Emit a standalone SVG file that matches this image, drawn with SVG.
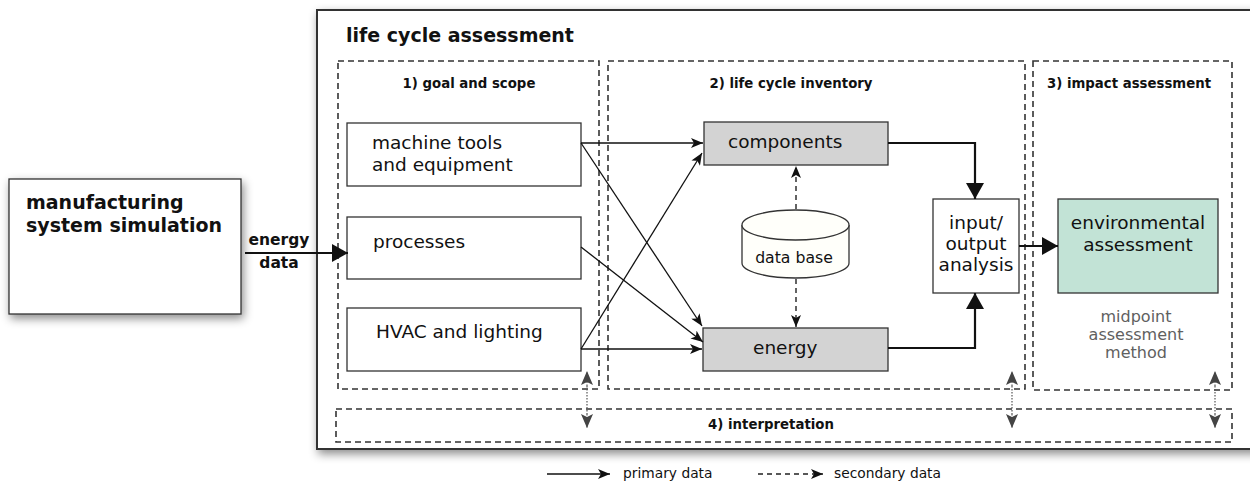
<svg xmlns="http://www.w3.org/2000/svg" width="1250" height="484" viewBox="0 0 1250 484">
<style>
text{font-family:"DejaVu Sans","Liberation Sans",sans-serif;fill:#111}
.b{font-weight:bold}
.box{fill:#fff;stroke:#333;stroke-width:1.3}
.grey{fill:#d3d3d3;stroke:#333;stroke-width:1.3}
.panel{fill:none;stroke:#333;stroke-width:1.6;stroke-dasharray:6 4}
.thin{fill:none;stroke:#111;stroke-width:1.3}
.thick{fill:none;stroke:#111;stroke-width:2.2}
.dash{fill:none;stroke:#222;stroke-width:1.4;stroke-dasharray:5 4}
.dot{fill:none;stroke:#555;stroke-width:1.2;stroke-dasharray:1.5 1.5}
.t18{font-size:18.5px}
.h{font-size:13.3px;font-weight:bold}
.lg{font-size:13.8px}
</style>
<defs>
<filter id="sh" x="-10%" y="-10%" width="130%" height="130%">
<feDropShadow dx="2" dy="4" stdDeviation="5" flood-color="#000" flood-opacity="0.45"/>
</filter>
<marker id="ah" viewBox="0 0 12 10" refX="12" refY="5" markerWidth="13" markerHeight="10" markerUnits="userSpaceOnUse" orient="auto"><path d="M0,0 L12,5 L0,10 L3,5 Z" fill="#111"/></marker>
<marker id="big" viewBox="0 0 16 18" refX="16" refY="9" markerWidth="16" markerHeight="18" markerUnits="userSpaceOnUse" orient="auto"><path d="M0,0 L16,9 L0,18 Z" fill="#111"/></marker>
<marker id="dh" viewBox="0 0 12 10" refX="12" refY="5" markerWidth="12" markerHeight="10" markerUnits="userSpaceOnUse" orient="auto"><path d="M0,0 L12,5 L0,10 L3,5 Z" fill="#111"/></marker>
<marker id="gh" viewBox="0 0 14 12" refX="14" refY="6" markerWidth="14" markerHeight="12" markerUnits="userSpaceOnUse" orient="auto"><path d="M0,0 L14,6 L0,12 L3,6 Z" fill="#444"/></marker>
</defs>

<g id="mss">
<rect x="9" y="179" width="232" height="135" class="box" filter="url(#sh)"/>
<text x="26" y="209" class="b" font-size="19">manufacturing</text>
<text x="26" y="232" class="b" font-size="19">system simulation</text>
</g>

<g id="lca">
<rect x="317" y="10" width="950" height="439" fill="#fff" stroke="#333" stroke-width="2" filter="url(#sh)"/>
<text x="346" y="42" class="b" font-size="19">life cycle assessment</text>
</g>

<g id="panel1">
<rect x="338" y="61" width="261" height="328" class="panel"/>
<text x="469" y="88" class="h" text-anchor="middle">1) goal and scope</text>
</g>
<g id="panel2">
<rect x="608" y="61" width="417" height="328" class="panel"/>
<text x="791" y="88" class="h" text-anchor="middle">2) life cycle inventory</text>
</g>
<g id="panel3">
<rect x="1033" y="61" width="199" height="329" class="panel"/>
<text x="1129" y="88" class="h" text-anchor="middle">3) impact assessment</text>
</g>
<g id="panel4">
<rect x="336" y="409" width="896" height="33" class="panel"/>
<text x="771" y="429" class="h" text-anchor="middle">4) interpretation</text>
</g>

<g id="machine">
<rect x="347" y="123" width="234" height="63" class="box"/>
<text x="372" y="149" class="t18">machine tools</text>
<text x="372" y="171" class="t18">and equipment</text>
</g>
<g id="processes">
<rect x="347" y="217" width="234" height="62" class="box"/>
<text x="373" y="248" class="t18">processes</text>
</g>
<g id="hvac">
<rect x="347" y="308" width="234" height="63" class="box"/>
<text x="376" y="338" class="t18">HVAC and lighting</text>
</g>

<g id="components">
<rect x="704" y="122" width="184" height="43" class="grey"/>
<text x="728" y="148" class="t18">components</text>
</g>
<g id="energy">
<rect x="703" y="328" width="185" height="43" class="grey"/>
<text x="753" y="354" class="t18">energy</text>
</g>
<g id="database">
<path d="M742,225 L742,263 A53.5,15 0 0 0 849,263 L849,225" fill="#fffffa" stroke="#333" stroke-width="1.3"/>
<ellipse cx="795.5" cy="225" rx="53.5" ry="15" fill="#fffffa" stroke="#333" stroke-width="1.3"/>
<text x="794" y="263" text-anchor="middle" font-size="15.7">data base</text>
</g>
<g id="io">
<rect x="933" y="199" width="86" height="94" class="box"/>
<text x="976" y="229" class="t18" text-anchor="middle">input/</text>
<text x="976" y="250" class="t18" text-anchor="middle">output</text>
<text x="976" y="271" class="t18" text-anchor="middle">analysis</text>
</g>
<g id="env">
<rect x="1058" y="199" width="160" height="94" fill="#c2e3d6" stroke="#333" stroke-width="1.3"/>
<text x="1138" y="229" class="t18" text-anchor="middle">environmental</text>
<text x="1138" y="251" class="t18" text-anchor="middle">assessment</text>
<text x="1136" y="322" text-anchor="middle" font-size="16" style="fill:#606060">midpoint</text>
<text x="1136" y="340" text-anchor="middle" font-size="16" style="fill:#606060">assessment</text>
<text x="1136" y="358" text-anchor="middle" font-size="16" style="fill:#606060">method</text>
</g>

<g id="connectors">
<line x1="245" y1="253" x2="348" y2="253" class="thick" marker-end="url(#big)"/>
<text x="279" y="245" text-anchor="middle" class="b" font-size="15.5">energy</text>
<text x="279" y="268" text-anchor="middle" class="b" font-size="15.5">data</text>

<line x1="581" y1="143" x2="703" y2="143" class="thin" marker-end="url(#ah)"/>
<line x1="581" y1="143" x2="702" y2="326" class="thin" marker-end="url(#ah)"/>
<line x1="581" y1="247" x2="703" y2="342" class="thin" marker-end="url(#ah)"/>
<line x1="581" y1="349" x2="702" y2="153" class="thin" marker-end="url(#ah)"/>
<line x1="581" y1="349" x2="702" y2="349" class="thin" marker-end="url(#ah)"/>

<line x1="796" y1="209" x2="796" y2="166" class="dash" marker-end="url(#dh)"/>
<line x1="796" y1="279" x2="796" y2="327" class="dash" marker-end="url(#dh)"/>

<polyline points="888,143 975,143 975,199" class="thick" marker-end="url(#big)"/>
<polyline points="888,348 975,348 975,293" class="thick" marker-end="url(#big)"/>
<line x1="1019" y1="246" x2="1058" y2="246" class="thick" marker-end="url(#big)"/>

<line x1="587" y1="386" x2="587" y2="414" class="dot"/>
<line x1="587" y1="386" x2="587" y2="371" class="dot" marker-end="url(#gh)"/>
<line x1="587" y1="414" x2="587" y2="428" class="dot" marker-end="url(#gh)"/>
<line x1="1012" y1="386" x2="1012" y2="414" class="dot"/>
<line x1="1012" y1="386" x2="1012" y2="371" class="dot" marker-end="url(#gh)"/>
<line x1="1012" y1="414" x2="1012" y2="428" class="dot" marker-end="url(#gh)"/>
<line x1="1215" y1="386" x2="1215" y2="414" class="dot"/>
<line x1="1215" y1="386" x2="1215" y2="371" class="dot" marker-end="url(#gh)"/>
<line x1="1215" y1="414" x2="1215" y2="428" class="dot" marker-end="url(#gh)"/>
</g>

<g id="legend">
<line x1="547" y1="474" x2="610" y2="474" class="thin" marker-end="url(#ah)"/>
<text x="623" y="478" class="lg">primary data</text>
<line x1="758" y1="474" x2="823" y2="474" class="dash" stroke-width="1.2" marker-end="url(#dh)"/>
<text x="834" y="478" class="lg">secondary data</text>
</g>
</svg>
